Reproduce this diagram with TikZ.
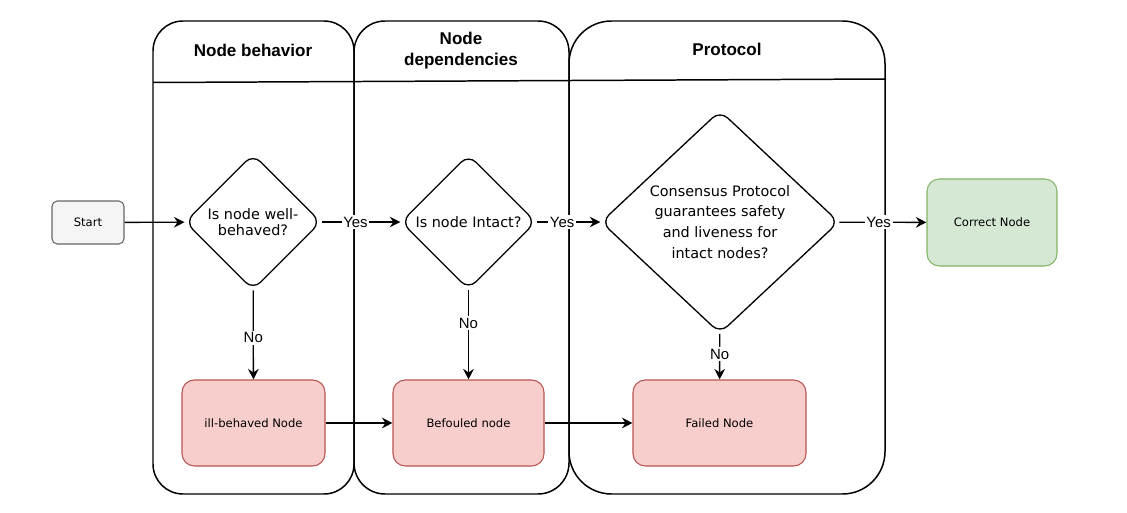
\documentclass[tikz,border=0pt]{standalone}
\usepackage{fontspec}
\setmainfont{DejaVu Sans}
\newfontfamily\arialfont{Liberation Sans}
\usepackage{tikz}
\usetikzlibrary{arrows.meta, shapes.geometric}
\usepackage{xcolor}
\definecolor{startfill}{HTML}{F5F5F5}
\definecolor{startline}{HTML}{666666}
\definecolor{badfill}{HTML}{F8CECC}
\definecolor{badline}{HTML}{B85450}
\definecolor{goodfill}{HTML}{D5E8D4}
\definecolor{goodline}{HTML}{82B366}

\begin{document}
\begin{tikzpicture}[
    lane/.style={draw, line width=0.85pt},
    title/.style={font=\arialfont\bfseries\fontsize{9.7}{12}\selectfont, align=center},
    decision/.style={diamond, draw, line width=0.75pt, rounded corners=6pt, inner sep=0pt, align=center},
    state/.style={draw, rounded corners=7pt, line width=0.6pt, minimum height=1.72cm, font=\fontsize{6.6}{8}\selectfont},
    badnode/.style={fill=badfill, draw=badline},
    flow/.style={-{Stealth[length=6pt, width=6pt, inset=2pt]}, line width=0.75pt},
    answer/.style={fill=white, inner sep=1pt, font=\arialfont\fontsize{8.5}{10}\selectfont}
  ]
  \useasboundingbox (0,0) rectangle (22.54,10.24);

  % swimlanes
  \draw[lane, rounded corners=0.6cm] (3.06,0.36) rectangle (7.08,9.82);
  \draw[lane, rounded corners=0.62cm] (7.08,0.36) rectangle (11.38,9.82);
  \draw[lane, rounded corners=0.85cm] (11.38,0.36) rectangle (17.70,9.82);
  \coordinate (headl) at (3.06,8.59);
  \coordinate (headr) at (17.72,8.66);
  \draw[lane] (headl) -- (headr);

  \node[title] (behavior) at (5.06,9.24) {Node behavior};
  \node[title] (deps) at (9.22,9.22) {Node\\dependencies};
  \node[title] (protocol) at (14.54,9.26) {Protocol};

  % nodes
  \node[state, fill=startfill, draw=startline, minimum width=1.44cm, minimum height=0.86cm, rounded corners=3pt] (start) at (1.76,5.79) {Start};
  \node[decision, minimum width=2.72cm, minimum height=2.72cm, font=\fontsize{8.2}{9.5}\selectfont] (behaved) at (5.06,5.80) {Is node well-\\behaved?};
  \node[decision, minimum width=2.70cm, minimum height=2.70cm, font=\fontsize{8.2}{9.5}\selectfont] (intact) at (9.37,5.80) {Is node Intact?};
  \node[decision, minimum width=4.76cm, minimum height=4.46cm, font=\fontsize{8.2}{11.9}\selectfont] (consensus) at (14.40,5.80) {Consensus Protocol\\guarantees safety\\and liveness for\\intact nodes?};
  \node[state, fill=goodfill, draw=goodline, minimum width=2.6cm, minimum height=1.74cm] (correct) at (19.84,5.79) {Correct Node};
  \node[state, badnode, minimum width=2.86cm] (ill) at (5.07,1.78) {ill-behaved Node};
  \node[state, badnode, minimum width=3.02cm] (befouled) at (9.37,1.78) {Befouled node};
  \node[state, badnode, minimum width=3.46cm] (failed) at (14.39,1.78) {Failed Node};

  % connectors
  \draw[flow] (start) -- (behaved);
  \draw[flow] (behaved) -- node[answer, pos=0.43] {Yes} (intact);
  \draw[flow] (intact) -- node[answer, pos=0.40] {Yes} (consensus);
  \draw[flow] (consensus) -- node[answer, pos=0.45] {Yes} (correct);
  \draw[flow] (behaved) -- node[answer, pos=0.53] {No} (ill);
  \draw[flow] (intact) -- node[answer, pos=0.37] {No} (befouled);
  \draw[flow] (consensus) -- node[answer, pos=0.44] {No} (failed);
  \draw[flow] (ill) -- (befouled);
  \draw[flow] (befouled) -- (failed);
\end{tikzpicture}
\end{document}
